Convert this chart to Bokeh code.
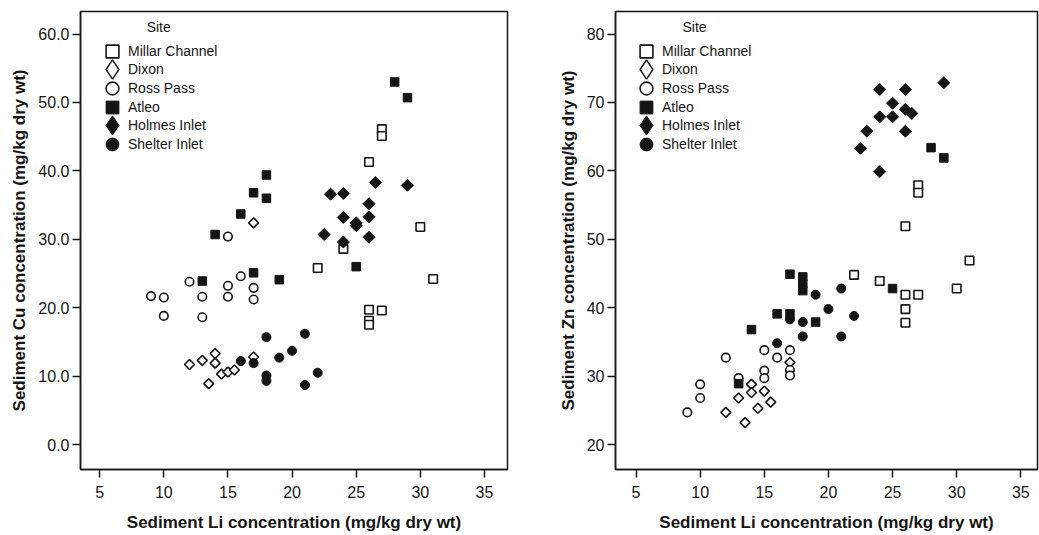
import math
from bokeh.plotting import figure
from bokeh.models import FixedTicker, Legend, LegendItem, Label, Range1d
from bokeh.layouts import row
from bokeh.embed import file_html
from bokeh.resources import INLINE

# ---------------- data ----------------
sites = ["Millar Channel", "Dixon", "Ross Pass", "Atleo", "Holmes Inlet", "Shelter Inlet"]

x_ticks = [5, 10, 15, 20, 25, 30, 35]
x_tick_labels = ["5", "10", "15", "20", "25", "30", "35"]
cu_ticks = [0, 10, 20, 30, 40, 50, 60]
cu_tick_labels = ["0.0", "10.0", "20.0", "30.0", "40.0", "50.0", "60.0"]
zn_ticks = [20, 30, 40, 50, 60, 70, 80]
zn_tick_labels = ["20", "30", "40", "50", "60", "70", "80"]

# Left panel: Li vs Cu
millar_li_a = [27, 27, 26, 30, 31, 22, 24, 26, 26, 26, 27]
millar_cu = [46.1, 45.1, 41.3, 31.8, 24.2, 25.8, 28.6, 19.7, 18.1, 17.5, 19.6]
dixon_li_a = [17, 12, 13, 14, 14, 13.5, 14.5, 15, 15.5, 17]
dixon_cu = [32.4, 11.7, 12.3, 13.3, 11.9, 8.9, 10.3, 10.6, 10.9, 12.8]
ross_li_a = [15, 12, 16, 15, 17, 9, 10, 13, 15, 17, 10, 13]
ross_cu = [30.4, 23.8, 24.6, 23.2, 22.9, 21.7, 21.5, 21.6, 21.6, 21.2, 18.8, 18.6]
atleo_li_a = [28, 29, 18, 17, 18, 16, 14, 17, 19, 13, 25]
atleo_cu = [53.0, 50.7, 39.4, 36.8, 36.0, 33.7, 30.7, 25.1, 24.1, 23.9, 26.0]
holmes_li_a = [23, 24, 26.5, 29, 26, 24, 26, 25, 25, 22.5, 26, 24]
holmes_cu = [36.6, 36.7, 38.3, 37.9, 35.2, 33.2, 33.3, 32.4, 32.0, 30.7, 30.3, 29.6]
shelter_li_a = [16, 17, 18, 21, 20, 19, 22, 18, 18, 21]
shelter_cu = [12.2, 11.9, 15.7, 16.2, 13.7, 12.7, 10.5, 10.1, 9.3, 8.7]

# Right panel: Li vs Zn
millar_li_b = [22, 24, 26, 27, 26, 26, 30, 31, 26, 27, 27]
millar_zn = [44.8, 43.9, 41.9, 41.9, 39.8, 37.8, 42.8, 46.9, 51.9, 57.9, 56.8]
dixon_li_b = [12, 13.5, 13, 14, 14, 15, 14.5, 15.5, 17]
dixon_zn = [24.7, 23.2, 26.8, 28.8, 27.6, 27.8, 25.3, 26.2, 32.0]
ross_li_b = [9, 10, 10, 12, 13, 15, 16, 15, 15, 17, 17, 17]
ross_zn = [24.7, 26.8, 28.8, 32.7, 29.7, 33.8, 32.7, 30.8, 29.7, 33.8, 30.9, 30.1]
atleo_li_b = [17, 18, 18, 18, 14, 16, 17, 19, 25, 28, 29, 13]
atleo_zn = [44.9, 44.5, 43.5, 42.5, 36.8, 39.1, 39.1, 37.9, 42.8, 63.4, 61.9, 28.9]
holmes_li_b = [29, 24, 26, 25, 24, 25, 26, 26.5, 23, 26, 22.5, 24]
holmes_zn = [72.9, 71.9, 71.9, 69.9, 67.9, 67.9, 69.0, 68.4, 65.8, 65.8, 63.3, 59.9]
shelter_li_b = [19, 18, 18, 16, 20, 21, 22, 21, 17]
shelter_zn = [41.9, 37.9, 35.8, 34.8, 39.8, 42.8, 38.8, 35.8, 38.3]

FONT = "Liberation Sans"
INK = "#151515"
NAN = float("nan")


def style_axes(p, yticks, ylabels, ylabel):
    p.xaxis.ticker = FixedTicker(ticks=x_ticks)
    p.xaxis.major_label_overrides = dict(zip(x_ticks, x_tick_labels))
    p.yaxis.ticker = FixedTicker(ticks=yticks)
    p.yaxis.major_label_overrides = dict(zip(yticks, ylabels))
    p.xaxis.axis_label = "Sediment Li concentration (mg/kg dry wt)"
    p.yaxis.axis_label = ylabel
    for ax in (p.xaxis[0], p.yaxis[0]):
        ax.axis_line_color = INK
        ax.axis_line_width = 1.5
        ax.major_tick_line_color = INK
        ax.major_tick_line_width = 1.5
        ax.major_tick_in = 0
        ax.major_tick_out = 8
        ax.minor_tick_line_color = None
        ax.major_label_text_font = FONT
        ax.major_label_text_font_size = "16px"
        ax.major_label_text_color = INK
        ax.axis_label_text_font = FONT
        ax.axis_label_text_font_size = "17px"
        ax.axis_label_text_font_style = "bold"
        ax.axis_label_text_color = INK
    p.xaxis.major_label_standoff = 8
    p.xaxis.axis_label_standoff = 12
    p.yaxis.major_label_standoff = 3
    p.yaxis.axis_label_standoff = 6
    p.xgrid.visible = False
    p.ygrid.visible = False
    p.outline_line_color = INK
    p.outline_line_width = 1.5
    p.outline_line_alpha = 1


def add_points(p, data):
    (ml, mv), (dl, dv), (rl, rv), (al, av), (hl, hv), (sl, sv) = data
    r_m = p.scatter(ml, mv, marker="square", size=8.5, fill_color="white", line_color=INK, line_width=1.6)
    r_d = p.scatter(dl, dv, marker="square", size=7, angle=math.pi / 4, fill_color="white", line_color=INK, line_width=1.6)
    r_r = p.scatter(rl, rv, marker="circle", size=8.5, fill_color="white", line_color=INK, line_width=1.6)
    r_a = p.scatter(al, av, marker="square", size=8.5, fill_color=INK, line_color=INK, line_width=1)
    r_h = p.scatter(hl, hv, marker="square", size=8.5, angle=math.pi / 4, fill_color=INK, line_color=INK, line_width=1)
    r_s = p.scatter(sl, sv, marker="circle", size=9, fill_color=INK, line_color=INK, line_width=1)
    # legend-only renderers (no visible data): big diamonds, and an invisible key for text rows
    d_proxy = p.scatter([NAN], [NAN], marker="diamond", fill_color="white", line_color=INK, line_width=1.4)
    h_proxy = p.scatter([NAN], [NAN], marker="diamond", fill_color=INK, line_color=INK, line_width=1)
    blank = p.scatter([NAN], [NAN], marker="circle", fill_alpha=0, line_alpha=0)
    keys = [r_m, blank, r_r, r_a, blank, r_s]
    big = {1: d_proxy, 4: h_proxy}
    return keys, big


GLYPH = 32
BIG = 48
FRAME_BOTTOM = 469


def add_legend(p, keys, big, xoff):
    common = dict(spacing=0, label_standoff=0, padding=0, margin=0,
                  border_line_alpha=0, background_fill_alpha=0,
                  label_text_font=FONT, label_text_font_size="14px", label_text_color=INK)
    for i, (s, r) in enumerate(zip(sites, keys)):
        yc = 50.7 + 18.7 * i
        yoff = int(round(FRAME_BOTTOM - (yc + GLYPH / 2)))
        p.add_layout(Legend(items=[LegendItem(label=s, renderers=[r])], location=(xoff, yoff),
                            glyph_width=GLYPH, glyph_height=GLYPH, **common))
        if i in big:
            d = (BIG - GLYPH) / 2
            yoff2 = int(round(FRAME_BOTTOM - (yc + BIG / 2)))
            p.add_layout(Legend(items=[LegendItem(label=" ", renderers=[big[i]])],
                                location=(int(round(xoff - d)), yoff2),
                                glyph_width=BIG, glyph_height=BIG, **common))


# ---------------- left panel ----------------
p1 = figure(width=555, height=535, output_backend="svg", toolbar_location=None,
            x_range=Range1d(3.5, 36.8), y_range=Range1d(-3.65, 63.3),
            min_border_left=80, min_border_right=48, min_border_top=11, min_border_bottom=66)
style_axes(p1, cu_ticks, cu_tick_labels, "Sediment Cu concentration (mg/kg dry wt)")
k1, b1 = add_points(p1, [(millar_li_a, millar_cu), (dixon_li_a, dixon_cu), (ross_li_a, ross_cu),
                         (atleo_li_a, atleo_cu), (holmes_li_a, holmes_cu), (shelter_li_a, shelter_cu)])
add_legend(p1, k1, b1, 16)
p1.add_layout(Label(x=9.6, y=61.1, text="Site", text_align="center", text_baseline="middle",
                    text_font=FONT, text_font_size="14px", text_color=INK))

# ---------------- right panel ----------------
p2 = figure(width=484, height=535, output_backend="svg", toolbar_location=None,
            x_range=Range1d(3.4, 36.3), y_range=Range1d(16.35, 83.3),
            min_border_left=50, min_border_right=2, min_border_top=11, min_border_bottom=66)
style_axes(p2, zn_ticks, zn_tick_labels, "Sediment Zn concentration (mg/kg dry wt)")
k2, b2 = add_points(p2, [(millar_li_b, millar_zn), (dixon_li_b, dixon_zn), (ross_li_b, ross_zn),
                         (atleo_li_b, atleo_zn), (holmes_li_b, holmes_zn), (shelter_li_b, shelter_zn)])
add_legend(p2, k2, b2, 15)
p2.add_layout(Label(x=9.56, y=81.1, text="Site", text_align="center", text_baseline="middle",
                    text_font=FONT, text_font_size="14px", text_color=INK))

layout = row(p1, p2)
open("out.html", "w").write(file_html(layout, INLINE))
